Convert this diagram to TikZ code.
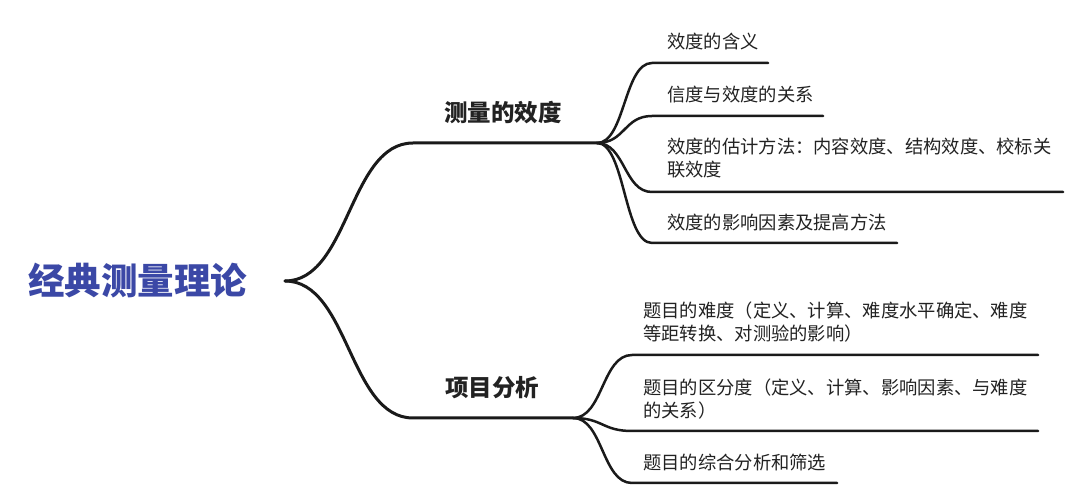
\documentclass[tikz,border=0pt]{standalone}
\usepackage{fontspec}
\setmainfont{Noto Sans CJK SC}
\definecolor{linec}{HTML}{1A1A1A}
\definecolor{textc}{HTML}{222222}
\definecolor{rootc}{HTML}{3B48A6}
\begin{document}
\begin{tikzpicture}[x=1pt,y=-1pt,
  mainconn/.style={line width=3pt, draw=linec, line cap=round},
  subconn/.style={line width=2.5pt, draw=linec, line cap=round},
  rootlabel/.style={anchor=west, inner sep=0pt, text=rootc, font={\fontsize{36.5}{40}\selectfont\bfseries}},
  branchlabel/.style={anchor=west, inner sep=0pt, text=textc, font={\fontsize{23.5}{28}\selectfont\bfseries}},
  leaflabel/.style={anchor=west, inner sep=0pt, text=textc, align=left, font={\fontsize{18.3}{23}\selectfont}}]
\useasboundingbox[fill=white] (0,0) rectangle (1080,502);

% root
\node[rootlabel] (root) at (28,281) {经典测量理论};
\coordinate (r) at (285,281);

% branch 1
\coordinate (b1s) at (413,143);
\coordinate (b1e) at (597,143);
\node[branchlabel] (b1) at (444,113) {测量的效度};

% branch 2
\coordinate (b2s) at (413,418);
\coordinate (b2e) at (573,418);
\node[branchlabel] (b2) at (445,388) {项目分析};

% leaves of branch 1
\coordinate (a1s) at (652,63);  \coordinate (a1e) at (768,63);
\coordinate (a2s) at (652,116); \coordinate (a2e) at (823,116);
\coordinate (a3s) at (652,192); \coordinate (a3e) at (1063,192);
\coordinate (a4s) at (652,243); \coordinate (a4e) at (897,243);
\node[leaflabel] (a1) at (667,42) {效度的含义};
\node[leaflabel] (a2) at (667,95) {信度与效度的关系};
\node[leaflabel] (a3) at (667,158.5) {效度的估计方法：内容效度、结构效度、校标关\\联效度};
\node[leaflabel] (a4) at (667,223) {效度的影响因素及提高方法};

% leaves of branch 2
\coordinate (c1s) at (632,355); \coordinate (c1e) at (1038,355);
\coordinate (c2s) at (632,431); \coordinate (c2e) at (1038,431);
\coordinate (c3s) at (632,483); \coordinate (c3e) at (837,483);
\node[leaflabel] (c1) at (643,322.5) {题目的难度（定义、计算、难度水平确定、难度\\等距转换、对测验的影响）};
\node[leaflabel] (c2) at (643,399.5) {题目的区分度（定义、计算、影响因素、与难度\\的关系）};
\node[leaflabel] (c3) at (643,463) {题目的综合分析和筛选};

% connectors root -> branches
\draw[mainconn] (r) .. controls +(64,0) and +(-64,0) .. (b1s) -- (b1e);
\draw[mainconn] (r) .. controls +(64,0) and +(-64,0) .. (b2s) -- (b2e);

% connectors branch 1 -> leaves
\foreach \k in {a1,a2,a3,a4}{
  \draw[subconn] (b1e) .. controls +(28,0) and +(-28,0) .. (\k s) -- (\k e);
}
% connectors branch 2 -> leaves
\foreach \k in {c1,c2,c3}{
  \draw[subconn] (b2e) .. controls +(30,0) and +(-30,0) .. (\k s) -- (\k e);
}
\end{tikzpicture}
\end{document}
